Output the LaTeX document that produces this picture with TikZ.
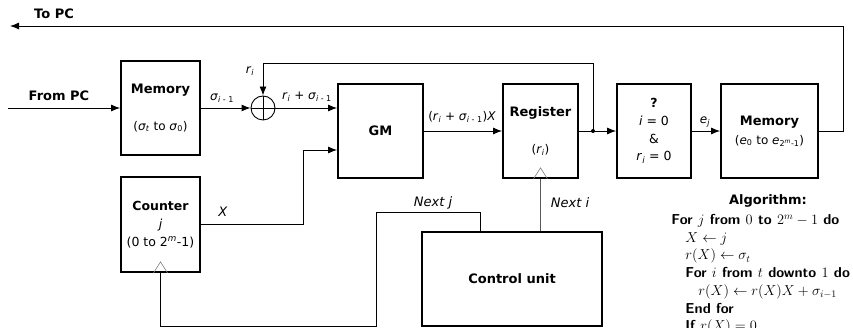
\documentclass[tikz,border=0pt]{standalone}
\usepackage{fontspec}
\setmainfont{DejaVu Sans}
\usetikzlibrary{arrows.meta}

\newcommand{\vsub}[2]{\textit{#1}\textsubscript{#2}}

\tikzset{
  blk/.style={draw, line width=1.8pt, minimum height=94pt, inner sep=0pt, align=center,
    font=\fontsize{13}{15.6}\selectfont},
  lbl/.style={inner sep=0pt, font=\fontsize{13}{15.6}\selectfont},
  mlbl/.style={inner sep=0pt, font=\fontsize{12}{14}\selectfont},
  clk/.style={gray, line width=0.6pt},
}

\begin{document}
\begin{tikzpicture}[x=1pt, y=1pt, >={Latex[length=9pt,width=7pt]}, line width=0.9pt]
  \useasboundingbox (0,0) rectangle (853,328);

  % 1. Blocks
  \node[blk, minimum width=79pt] (mem1) at (160.5,220)
    {\textbf{Memory}\\[21pt]{\fontsize{12}{14}\selectfont(\vsub{σ}{\textit{t}} to \vsub{σ}{0})}};
  \node[blk, minimum width=85pt] (gm) at (380.5,197) {\textbf{GM}};
  \node[blk, minimum width=75pt] (reg) at (540.5,197)
    {\textbf{Register}\\[21pt]{\fontsize{12}{14}\selectfont(\vsub{r}{\textit{i}})}};
  \node[blk, minimum width=74pt, font=\fontsize{12.5}{17.7}\selectfont] (test) at (654,197)
    {\textbf{?}\\\textit{i} = 0\\\&\\\vsub{r}{\textit{i}} = 0};
  \node[blk, minimum width=97pt] (mem2) at (769.5,197)
    {\textbf{Memory}\\[3pt]{\fontsize{12}{14}\selectfont(\vsub{e}{0} to \vsub{e}{2\textsuperscript{\textit{m}}-1})}};
  \node[blk, minimum width=79pt, minimum height=95pt, font=\fontsize{12.5}{18}\selectfont] (cnt) at (160.5,103.5)
    {\textbf{Counter}\\\textit{j}\\(0 to 2\textsuperscript{\textit{m}}-1)};
  \node[blk, minimum width=180pt] (ctrl) at (512,49) {\textbf{Control unit}};

  % adder
  \node[draw, circle, minimum size=24pt, inner sep=0pt] (add) at (263,220) {};
  \draw (add.north) -- (add.south) (add.west) -- (add.east);

  % clock inputs
  \draw[clk] (reg.south) ++(-7,0) -- ++(7,11) -- ++(7,-11);
  \draw[clk] (cnt.south) ++(-7,0) -- ++(7,11) -- ++(7,-11);

  % 2. Connectors
  \coordinate (frompc) at (8,220);
  \coordinate (topc) at (10,302);
  \coordinate (split) at (593,197);
  \draw[->] (frompc) -- (mem1);
  \draw[->] (mem1) -- (add);
  \draw[->] (add.east) -- (add.east -| gm.west);
  \draw[->] (split) -- ++(0,68) -| (add.north);
  \draw[->] (cnt.east) -- ++(103,0) |- ([yshift=-19pt]gm.west);
  \draw[->] (gm) -- (reg);
  \draw (reg) -- (split);
  \draw[->] (split) -- (test);
  \fill (split) circle (2pt);
  \draw[->] (test) -- (mem2);
  \draw[->] (mem2.east) -- ++(25,0) |- (topc);
  \draw (cnt.south) -- ++(0,-54) -| ++(216,114) -| ([xshift=-32pt]ctrl.north);
  \draw[gray!70!black, line width=0.6pt] (reg.south |- ctrl.north) -- (reg.south);

  % 3. Labels
  \node[lbl] (ltopc) at (54,314) {\textbf{To PC}};
  \node[lbl] (lfrompc) at (59,232) {\textbf{From PC}};
  \node[mlbl] (lsig) at (222,230) {\vsub{σ}{\textit{i} - 1}};
  \node[mlbl] (lri) at (250,257) {\vsub{r}{\textit{i}}};
  \node[mlbl] (lsum) at (307,231) {\vsub{r}{\textit{i}} + \vsub{σ}{\textit{i} - 1}};
  \node[mlbl] (lprod) at (462,211) {(\vsub{r}{\textit{i}} + \vsub{σ}{\textit{i} - 1})\textit{X}};
  \node[mlbl] (lej) at (705,206) {\vsub{e}{\textit{j}}};
  \node[lbl] (lx) at (223,116) {\textit{X}};
  \node[lbl] (lnextj) at (433,125) {\textit{Next j}};
  \node[lbl] (lnexti) at (570,125) {\textit{Next i}};

  % 4. Algorithm
  \node[lbl] (algt) at (768,127) {\textbf{Algorithm:}};
  \node[anchor=north west, align=left, inner sep=0pt,
    font=\sffamily\bfseries\fontsize{14.4}{17.7}\selectfont] (algo) at (671,114)
    {For $j$ from $0$ to $2^m-1$ do\\
     \hspace*{14pt}$X \leftarrow j$\\
     \hspace*{14pt}$r(X) \leftarrow \sigma_t$\\
     \hspace*{14pt}For $i$ from $t$ downto $1$ do\\
     \hspace*{27pt}$r(X) \leftarrow r(X)X + \sigma_{i-1}$\\
     \hspace*{14pt}End for\\
     \hspace*{14pt}If $r(X) = 0$};
\end{tikzpicture}
\end{document}
